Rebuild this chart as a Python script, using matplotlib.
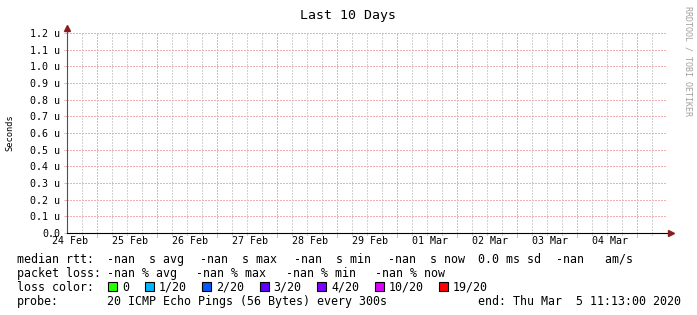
import matplotlib
matplotlib.use('Agg')
import matplotlib.pyplot as plt
import numpy as np
from matplotlib.patches import Rectangle

# %% data
title = 'Last 10 Days'
y_label = 'Seconds'
watermark = 'RRDTOOL / TOBI OETIKER'

# time axis in hours since graph start (Feb 23 11:13), 10 days wide
span_hours = 240
day_labels = ['24 Feb', '25 Feb', '26 Feb', '27 Feb', '28 Feb',
              '29 Feb', '01 Mar', '02 Mar', '03 Mar', '04 Mar']
label_hours = [1, 25, 49, 73, 97, 121, 145, 169, 193, 217]
midnight_hours = [12, 36, 60, 84, 108, 132, 156, 180, 204, 228]
minor_hours = [h for h in range(6, 240, 6) if h not in midnight_hours]

y_ticks = [0.0, 0.1e-6, 0.2e-6, 0.3e-6, 0.4e-6, 0.5e-6, 0.6e-6,
           0.7e-6, 0.8e-6, 0.9e-6, 1.0e-6, 1.1e-6, 1.2e-6]
y_tick_labels = ['0.0', '0.1 u', '0.2 u', '0.3 u', '0.4 u', '0.5 u', '0.6 u',
                 '0.7 u', '0.8 u', '0.9 u', '1.0 u', '1.1 u', '1.2 u']

# no rtt samples in this period (all unknown)
rtt_hours = []
rtt_median = []

rtt_legend = ['median rtt:', '-nan  s avg', '-nan  s max', '-nan  s min',
              '-nan  s now', '0.0 ms sd', '-nan   am/s']
loss_legend = ['packet loss:', '-nan % avg', '-nan % max', '-nan % min', '-nan % now']
loss_names = ['0', '1/20', '2/20', '3/20', '4/20', '10/20', '19/20']
loss_colors = ['#26ff00', '#00b8ff', '#0059ff', '#5e00ff', '#7e00ff', '#dd00ff', '#ff0000']
probe_text = '20 ICMP Echo Pings (56 Bytes) every 300s'
end_text = 'end: Thu Mar  5 11:13:00 2020'

# %% layout
W, H = 697, 315
plt.rcParams['font.family'] = ['DejaVu Sans Mono']
plt.rcParams['lines.scale_dashes'] = False
fig = plt.figure(figsize=(W / 100, H / 100), dpi=100, facecolor='white')
ax = fig.add_axes([67 / W, (H - 233) / H, 600 / W, 200 / H])
ax.set_facecolor('white')

def fx(x):
    return x / W

def fy(y):
    return 1 - y / H

minor_col = '#d2d2d2'
major_col = '#eeb0b0'
px = 0.72  # one pixel in points
dot = (0, (1.44, 1.44))  # 2px on / 2px off (1px dots merge in agg)

ax.set_xlim(0, span_hours)
ax.set_ylim(0, 1.2e-6)

# grid dots
for h in minor_hours:
    ax.axvline(h, color=minor_col, lw=px, linestyle=dot, antialiased=False, zorder=1)
    ax.plot([h, h], [-0.012, 0], transform=ax.get_xaxis_transform(),
            color=minor_col, lw=px, clip_on=False, antialiased=False, zorder=1)
for h in midnight_hours:
    ax.axvline(h, color=major_col, lw=px, linestyle=dot, antialiased=False, zorder=2)
    ax.plot([h, h], [-0.018, 0], transform=ax.get_xaxis_transform(),
            color=major_col, lw=px, clip_on=False, antialiased=False, zorder=2)
for v in y_ticks[1:]:
    ax.axhline(v, color=major_col, lw=px, linestyle=dot, antialiased=False, zorder=2)

ax.plot(rtt_hours, rtt_median, color='#00aa00')

# axes lines + arrows
for s in ['top', 'right', 'left']:
    ax.spines[s].set_visible(False)
ax.spines['bottom'].set_color('black')
ax.spines['bottom'].set_linewidth(0.8)
ax.spines['bottom'].set_zorder(5)
ax.plot([0, 0], [0, 1.02], transform=ax.transAxes, clip_on=False,
        color='#505050', lw=0.8, zorder=5)
ax.plot([1.0065], [0], marker='>', markersize=4.5, color='#8b1c1c',
        transform=ax.transAxes, clip_on=False, zorder=6)
ax.plot([0], [1.025], marker='^', markersize=4.5, color='#8b1c1c',
        transform=ax.transAxes, clip_on=False, zorder=6)

# ticks
ax.set_yticks(y_ticks)
ax.set_yticklabels(y_tick_labels)
ax.tick_params(axis='y', length=2.5, width=px, color=major_col, pad=2.5,
               labelsize=7.2)
ax.set_xticks(label_hours)
ax.set_xticklabels(day_labels)
ax.tick_params(axis='x', length=0, pad=1.8, labelsize=7.2)

# titles
fig.text(fx(348), fy(18.5), title, ha='center', va='baseline', size=9.5)
fig.text(fx(10), fy(133), y_label, rotation=90, ha='center', va='center', size=6.2)
fig.text(fx(688), fy(61), watermark, rotation=270, ha='center', va='center',
         size=6.0, color='#a0a0a0')

# legend
txt = dict(size=8.4, va='baseline')
rtt_x = [17, 107, 200, 294, 388, 478, 556]
for x, s in zip(rtt_x, rtt_legend):
    fig.text(fx(x), fy(263), s, **txt)
loss_x = [17, 107, 196, 286, 375]
for x, s in zip(loss_x, loss_legend):
    fig.text(fx(x), fy(277), s, **txt)

fig.text(fx(17), fy(291), 'loss color:', **txt)
x = 108
for name, c in zip(loss_names, loss_colors):
    fig.add_artist(Rectangle((fx(x), fy(290.5)), 9 / W, 9 / H, transform=fig.transFigure,
                             facecolor=c, edgecolor='black', linewidth=0.8))
    fig.text(fx(x + 14), fy(291), name, **txt)
    x += 14 + 7 * len(name) + 15.5

fig.text(fx(17), fy(305), 'probe:', **txt)
fig.text(fx(107), fy(305), probe_text, **txt)
fig.text(fx(478), fy(305), end_text, **txt)

fig.savefig('out.png', dpi=100, facecolor='white')
